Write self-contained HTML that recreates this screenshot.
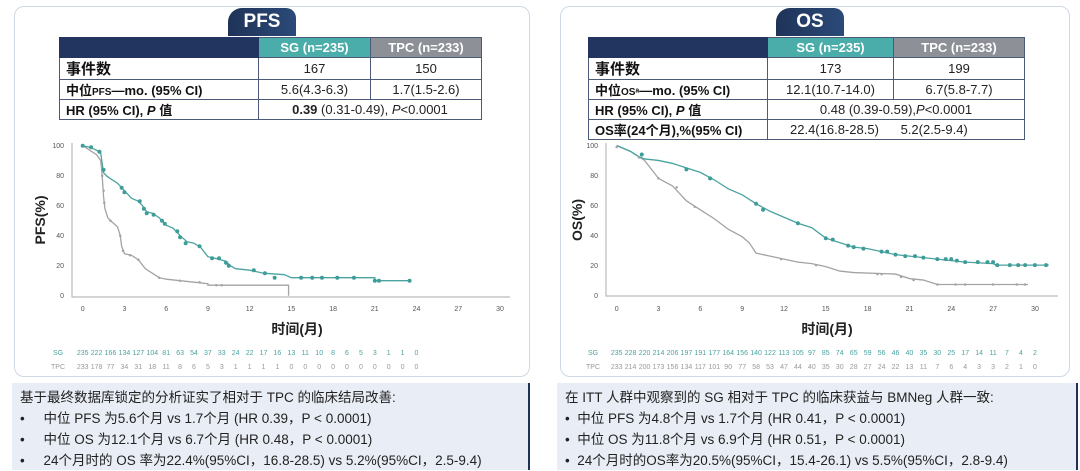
<!DOCTYPE html>
<html><head><meta charset="utf-8">
<style>
*{margin:0;padding:0;box-sizing:border-box}
body{width:1080px;height:470px;background:#fff;position:relative;overflow:hidden;font-family:"Liberation Sans","Noto Sans CJK SC",sans-serif;color:#111}
.panel{position:absolute;border:1.5px solid #cfd8e6;border-radius:10px;background:#fff}
.tab{position:absolute;height:28px;background:linear-gradient(90deg,#1f3358,#2b4a78);color:#fff;font-weight:bold;font-size:19px;text-align:center;line-height:28px;border-radius:14px 10px 0 0}
table{position:absolute;border-collapse:collapse;font-size:13px}
td{border:1px solid #4a5a78;height:20px;padding:0 6px;white-space:nowrap}
td.h{font-weight:bold}
.c{text-align:center;color:#222}
.note{position:absolute;background:#e9eef6;border-right:2px solid #1f3358;font-size:13.5px;color:#222;line-height:21px;padding:4px 8px}
.note div{white-space:nowrap}
</style></head><body>

<div class="panel" style="left:14px;top:6px;width:516px;height:371px"></div>
<div class="panel" style="left:560px;top:6px;width:510px;height:371px"></div>
<div class="tab" style="left:228px;top:8px;width:68px">PFS</div>
<div class="tab" style="left:776px;top:8px;width:68px">OS</div>

<table style="left:59px;top:37px;width:423px">
<tr><td style="background:#223560;width:199px;border-color:#223560"></td><td class="c h" style="background:#4aadaa;color:#fff;width:112px">SG (n=235)</td><td class="c h" style="background:#8e9097;color:#fff">TPC (n=233)</td></tr>
<tr><td class="h" style="font-size:15px">事件数</td><td class="c">167</td><td class="c">150</td></tr>
<tr><td class="h">中位<span style="font-size:10px">PFS</span>—mo. (95% CI)</td><td class="c">5.6(4.3-6.3)</td><td class="c">1.7(1.5-2.6)</td></tr>
<tr><td class="h">HR (95% CI), <i>P</i> 值</td><td class="c" colspan="2"><b>0.39</b> (0.31-0.49), <i>P</i>&lt;0.0001</td></tr>
</table>

<table style="left:588px;top:37px;width:437px">
<tr><td style="background:#223560;width:179px;border-color:#223560"></td><td class="c h" style="background:#4aadaa;color:#fff;width:126px">SG (n=235)</td><td class="c h" style="background:#8e9097;color:#fff">TPC (n=233)</td></tr>
<tr><td class="h" style="font-size:15px">事件数</td><td class="c">173</td><td class="c">199</td></tr>
<tr><td class="h">中位<span style="font-size:10px">OSᵃ</span>—mo. (95% CI)</td><td class="c">12.1(10.7-14.0)</td><td class="c">6.7(5.8-7.7)</td></tr>
<tr><td class="h">HR (95% CI), <i>P</i> 值</td><td class="c" colspan="2">0.48 (0.39-0.59),<i>P</i>&lt;0.0001</td></tr>
<tr><td class="h">OS率(24个月),%(95% CI)</td><td class="c" colspan="2" style="text-align:left;padding-left:22px">22.4(16.8-28.5)&nbsp;&nbsp;&nbsp;&nbsp;&nbsp;&nbsp;5.2(2.5-9.4)</td></tr>
</table>

<svg style="position:absolute;left:0;top:0" width="1080" height="470" font-family="Liberation Sans, Noto Sans CJK SC, sans-serif">
<g stroke="#bbb" stroke-width="1.2" fill="none">
<path d="M72 143 V297 H510"/>
<path d="M606 143 V296 H1058"/>
</g>
<g font-size="7" fill="#555" text-anchor="end">
<text x="64" y="148">100</text><text x="64" y="178">80</text><text x="64" y="208">60</text><text x="64" y="238">40</text><text x="64" y="268">20</text><text x="64" y="298">0</text>
<text x="598" y="148">100</text><text x="598" y="178">80</text><text x="598" y="208">60</text><text x="598" y="238">40</text><text x="598" y="268">20</text><text x="598" y="298">0</text>
</g>
<g font-size="7" fill="#555" text-anchor="middle">
<text x="82.7" y="311">0</text><text x="124.4" y="311">3</text><text x="166.2" y="311">6</text><text x="207.9" y="311">9</text><text x="249.6" y="311">12</text><text x="291.4" y="311">15</text><text x="333.1" y="311">18</text><text x="374.8" y="311">21</text><text x="416.5" y="311">24</text><text x="458.3" y="311">27</text><text x="500" y="311">30</text>
<text x="616.7" y="311">0</text><text x="658.5" y="311">3</text><text x="700.3" y="311">6</text><text x="742.2" y="311">9</text><text x="784" y="311">12</text><text x="825.8" y="311">15</text><text x="867.6" y="311">18</text><text x="909.5" y="311">21</text><text x="951.3" y="311">24</text><text x="993.1" y="311">27</text><text x="1035" y="311">30</text>
</g>
<g font-size="14" font-weight="bold" fill="#222" text-anchor="middle">
<text x="297" y="334">时间(月)</text><text x="827" y="334">时间(月)</text>
<text transform="translate(45,220) rotate(-90)">PFS(%)</text>
<text transform="translate(582,220) rotate(-90)">OS(%)</text>
</g>

<g transform="translate(82.7,295.7) scale(13.91,-1.5)" fill="none" stroke-width="1.3">
<path vector-effect="non-scaling-stroke" stroke="#a3a3a6" d="M0 100 L1 94 L1.3 90 L1.4 80 L1.5 66 L1.6 58 L1.8 52 L2 50 L2.5 46 L2.7 40 L2.8 33 L3 28 L3.5 27 L4 24 L4.5 18 L5 15 L5.5 12 L6 11 L7 10 L8 9 L9 8 L9 7 L14.8 7 L14.8 0"/>
<path vector-effect="non-scaling-stroke" stroke="#4aa3a0" d="M0 100 L0.5 99 L1 97 L1.3 95 L1.4 88 L1.5 82 L1.7 80 L2 78 L2.5 75 L3 70 L3.5 65 L4 63 L4.3 60 L4.6 56 L5 55 L5.5 52 L6 47 L6.5 45 L7 40 L7.5 36 L8 35 L8.5 32 L9 26 L9.5 25 L10.3 23 L10.6 20 L11 18 L12 17 L13 15 L14.5 14 L15 12 L21 12 L21 10 L23.5 10"/>
<path vector-effect="non-scaling-stroke" stroke="#a3a3a6" stroke-width="2.5" stroke-linecap="round" d="M1.4 80h0M1.5 70h0M1.55 62h0M2 50h0M2.7 40h0M2.9 30h0M3.4 27h0M4 24h0M5.5 12h0M7 10h0M8.4 9h0M9.6 7h0M10 7h0"/>
<path vector-effect="non-scaling-stroke" stroke="#3e9c99" stroke-width="4" stroke-linecap="round" d="M0 100h0M0.6 99h0M1.2 96h0M1.5 84h0M2.8 72h0M3 69h0M4.1 63h0M4.4 58h0M4.6 55h0M5.1 54h0M5.7 50h0M5.9 48h0M6.8 43h0M7 39h0M7.4 35h0M8.4 33h0M9.3 25h0M9.8 25h0M10.3 22h0M10.5 20h0M12.3 17h0M13.1 15h0M13.8 12h0M15.7 12h0M16.5 12h0M17.2 12h0M18.3 12h0M19.5 12h0M21 10h0M21.3 10h0M23.5 10h0"/>
</g>

<g transform="translate(616.7,295) scale(13.94,-1.495)" fill="none" stroke-width="1.3">
<path vector-effect="non-scaling-stroke" stroke="#a3a3a6" d="M0 100 L1 96 L2 90 L3 78 L4 73 L5 63 L6 57 L7 51 L8 44 L9 39 L9.5 35 L10 28 L11 26 L12 24 L13 22 L14 21 L15 19 L16 16 L17 15 L20 14 L21 11 L22 10 L23 7 L29.5 7"/>
<path vector-effect="non-scaling-stroke" stroke="#4aa3a0" d="M0 100 L1 96 L1.5 93 L2 91 L3 90 L4 88 L5 85 L6 82 L7 77 L8 71 L9 67 L10 61 L11 56 L12 52 L13 48 L14 45 L15 38 L16 35 L17 32 L18 31 L19 29 L20 27 L21 26 L22 25 L23 24 L24 23 L25 22 L27 21 L27.2 20 L31 20"/>
<path vector-effect="non-scaling-stroke" stroke="#a3a3a6" stroke-width="2.5" stroke-linecap="round" d="M0 99h0M1.6 92h0M3 78h0M4.3 72h0M5.6 59h0M11.8 24h0M14.3 20h0M18.7 14h0M19 14h0M20.4 12h0M21.3 10h0M23 7h0M24.3 7h0M25 7h0M27 7h0M28.7 7h0M29.3 7h0"/>
<path vector-effect="non-scaling-stroke" stroke="#3e9c99" stroke-width="4" stroke-linecap="round" d="M1.8 94h0M5 84h0M6.7 78h0M10 61h0M10.5 57h0M13 48h0M15 38h0M15.5 37h0M16.6 33h0M17 32h0M17.7 31h0M19 29h0M19.4 29h0M20 27h0M20.7 26h0M21.4 26h0M22 25h0M23 24h0M23.6 24h0M24 24h0M24.4 23h0M25 22h0M25.9 22h0M26.6 22h0M27 22h0M27.3 20h0M28.2 20h0M28.8 20h0M29.3 20h0M30 20h0M30.8 20h0"/>
</g>

<g font-size="7" text-anchor="middle">
<text x="58" y="355" fill="#4aa3a0">SG</text><text x="58" y="369" fill="#999">TPC</text>
<text x="593" y="355" fill="#4aa3a0">SG</text><text x="593" y="369" fill="#999">TPC</text>
</g>
<g font-size="7" text-anchor="middle" fill="#4aa3a0" id="pfssg"></g>
<g font-size="7" text-anchor="middle" fill="#999" id="pfstpc"></g>
<g font-size="7" text-anchor="middle" fill="#4aa3a0" id="ossg"></g>
<g font-size="7" text-anchor="middle" fill="#999" id="ostpc"></g>
</svg>

<div class="note" style="left:12px;top:383px;width:518px;height:87px">
<div>基于最终数据库锁定的分析证实了相对于 TPC 的临床结局改善:</div>
<div>•&nbsp;&nbsp;&nbsp;&nbsp;&nbsp;中位 PFS 为5.6个月 vs 1.7个月 (HR 0.39，P &lt; 0.0001)</div>
<div>•&nbsp;&nbsp;&nbsp;&nbsp;&nbsp;中位 OS 为12.1个月 vs 6.7个月 (HR 0.48，P &lt; 0.0001)</div>
<div>•&nbsp;&nbsp;&nbsp;&nbsp;&nbsp;24个月时的 OS 率为22.4%(95%CI，16.8-28.5) vs 5.2%(95%CI，2.5-9.4)</div>
</div>
<div class="note" style="left:557px;top:383px;width:521px;height:87px">
<div>在 ITT 人群中观察到的 SG 相对于 TPC 的临床获益与 BMNeg 人群一致:</div>
<div>•&nbsp;&nbsp;中位 PFS 为4.8个月 vs 1.7个月 (HR 0.41，P &lt; 0.0001)</div>
<div>•&nbsp;&nbsp;中位 OS 为11.8个月 vs 6.9个月 (HR 0.51，P &lt; 0.0001)</div>
<div>•&nbsp;&nbsp;24个月时的OS率为20.5%(95%CI，15.4-26.1) vs 5.5%(95%CI，2.8-9.4)</div>
</div>

<script>
function fill(id,vals,x0,dx,y){var g=document.getElementById(id),s='';vals.forEach(function(v,i){s+='<text x="'+(x0+i*dx).toFixed(1)+'" y="'+y+'">'+v+'</text>';});g.innerHTML=s;}
fill('pfssg',[235,222,166,134,127,104,81,63,54,37,33,24,22,17,16,13,11,10,8,6,5,3,1,1,0],82.7,13.91,355);
fill('pfstpc',[233,178,77,34,31,18,11,8,6,5,3,1,1,1,1,0,0,0,0,0,0,0,0,0,0],82.7,13.91,369);
fill('ossg',[235,228,220,214,206,197,191,177,164,156,140,122,113,105,97,85,74,65,59,56,46,40,35,30,25,17,14,11,7,4,2],616.7,13.94,355);
fill('ostpc',[233,214,200,173,156,134,117,101,90,77,58,53,47,44,40,35,30,28,27,24,22,13,11,7,6,4,3,3,2,1,0],616.7,13.94,369);
</script>
</body></html>
